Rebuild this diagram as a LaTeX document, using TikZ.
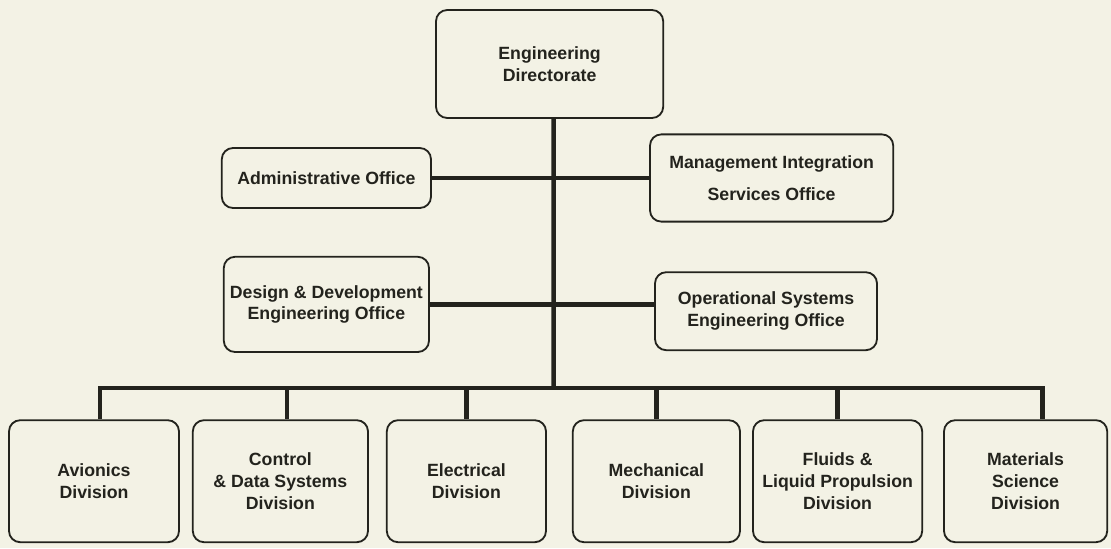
\documentclass[tikz,border=0pt]{standalone}
\usepackage{fontspec}
\setmainfont{Liberation Sans}
\usepackage{xcolor}
\usepackage{tikz}
\usetikzlibrary{positioning}

\definecolor{paper}{HTML}{F3F2E5}
\definecolor{ink}{HTML}{23231D}

\begin{document}
\begin{tikzpicture}[
    unit/.style={draw=ink, line width=1.3pt, rounded corners=0.28cm, align=center, inner sep=0pt,
        font=\fontsize{12.6}{15.5}\selectfont\bfseries, text=ink},
    link/.style={draw=ink, line width=3.2pt}
]
\fill[paper] (0,0) rectangle (27.775,-13.7);
\useasboundingbox (0,0) rectangle (27.775,-13.7);

\node[unit, minimum width=5.68cm, minimum height=2.7cm] (dir) at (13.74, -1.6) {Engineering\\Directorate};
\node[unit, minimum width=5.23cm, minimum height=1.5cm] (adm) at (8.16, -4.45) {Administrative Office};
\node[unit, minimum width=6.08cm, minimum height=2.18cm] (mis) at (19.29, -4.45) {Management Integration\\[7pt]Services Office};
\node[unit, minimum width=5.13cm, minimum height=2.38cm] (dde) at (8.16, -7.61) {Design \& Development\\Engineering Office};
\node[unit, minimum width=5.55cm, minimum height=1.95cm] (ose) at (19.15, -7.78) {Operational Systems\\Engineering Office};

\node[unit, minimum width=4.25cm, minimum height=3.05cm] (avi) at (2.35, -12.03) {Avionics\\Division};
\node[unit, minimum width=4.38cm, minimum height=3.05cm] (ctl) at (7.01, -12.03) {Control\\\& Data Systems\\Division};
\node[unit, minimum width=3.98cm, minimum height=3.05cm] (ele) at (11.66, -12.03) {Electrical\\Division};
\node[unit, minimum width=4.18cm, minimum height=3.05cm] (mec) at (16.41, -12.03) {Mechanical\\Division};
\node[unit, minimum width=4.23cm, minimum height=3.05cm] (flu) at (20.94, -12.03) {Fluids \&\\Liquid Propulsion\\Division};
\node[unit, minimum width=4.08cm, minimum height=3.05cm] (mat) at (25.64, -12.03) {Materials\\Science\\Division};

\coordinate (bus) at (13.84, -9.7);

% offices
\draw[link] ([xshift=0.1cm]dir.south) -- (bus);
\draw[link] (adm.east) -- (mis.west);
\draw[link] (dde.east) -- (dde.east -| ose.west);

% divisions
\draw[link] (bus) -| ([xshift=0.15cm]avi.north);
\draw[link] (bus) -| ([xshift=0.42cm]mat.north);
\draw[link] (bus -| ctl.north) ++(0.17,0) -- ([xshift=0.17cm]ctl.north);
\draw[link] (bus -| ele.north) -- (ele.north);
\draw[link] (bus -| mec.north) -- (mec.north);
\draw[link] (bus -| flu.north) -- (flu.north);
\end{tikzpicture}
\end{document}
